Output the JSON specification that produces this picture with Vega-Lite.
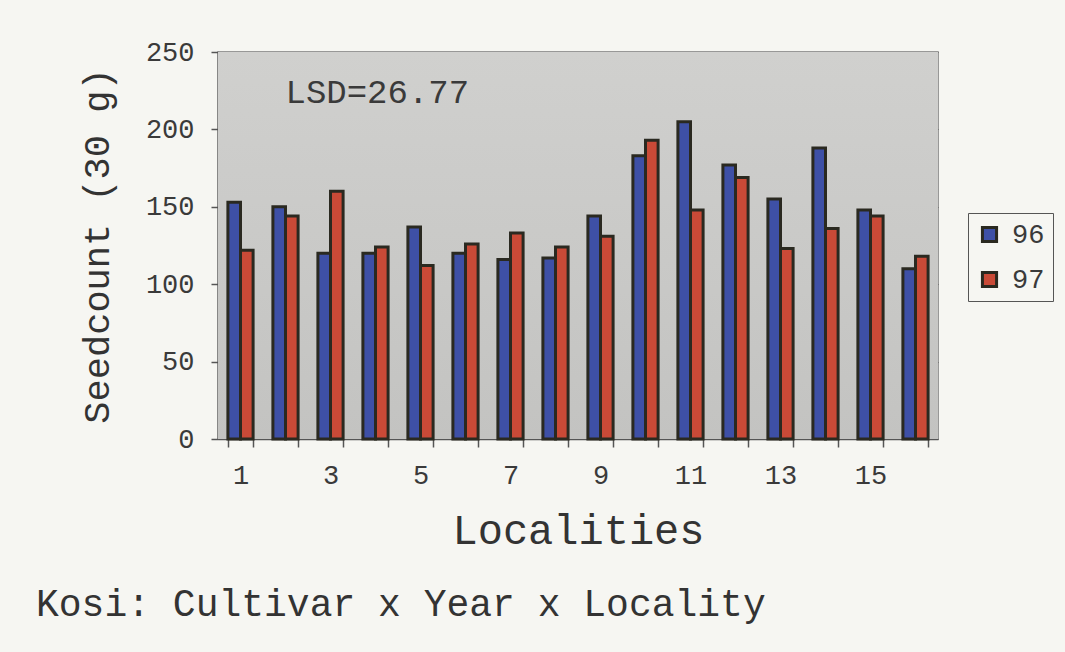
{
  "$schema": "https://vega.github.io/schema/vega-lite/v6.json",
  "autosize": "none",
  "width": 720,
  "height": 387,
  "padding": {"left": 218, "top": 52, "right": 127, "bottom": 213},
  "background": "#f6f6f2",
  "title": {
    "text": "Kosi: Cultivar x Year x Locality",
    "orient": "bottom",
    "anchor": "start",
    "frame": "group",
    "dx": -182,
    "offset": 35,
    "font": "Liberation Mono",
    "fontSize": 38,
    "fontWeight": "normal",
    "color": "#333333"
  },
  "config": {
    "font": "Liberation Mono",
    "view": {"stroke": "#7a7a7a", "strokeWidth": 1.5},
    "axis": {
      "labelFont": "Liberation Mono",
      "titleFont": "Liberation Mono",
      "labelColor": "#3a3a3a",
      "titleColor": "#333333",
      "titleFontWeight": "normal",
      "domainColor": "#555555",
      "tickColor": "#555555",
      "domainWidth": 1.5,
      "tickWidth": 1.5
    }
  },
  "layer": [
    {
      "data": {"values": [{}]},
      "mark": {
        "type": "rect",
        "fill": {
          "gradient": "linear",
          "x1": 0, "y1": 0, "x2": 0, "y2": 1,
          "stops": [
            {"offset": 0, "color": "#d0d0ce"},
            {"offset": 1, "color": "#c3c3c1"}
          ]
        }
      },
      "encoding": {}
    },
    {
      "data": {
        "values": [
          {"locality": 1, "year": "96", "seedcount": 153},
          {"locality": 1, "year": "97", "seedcount": 122},
          {"locality": 2, "year": "96", "seedcount": 150},
          {"locality": 2, "year": "97", "seedcount": 144},
          {"locality": 3, "year": "96", "seedcount": 120},
          {"locality": 3, "year": "97", "seedcount": 160},
          {"locality": 4, "year": "96", "seedcount": 120},
          {"locality": 4, "year": "97", "seedcount": 124},
          {"locality": 5, "year": "96", "seedcount": 137},
          {"locality": 5, "year": "97", "seedcount": 112},
          {"locality": 6, "year": "96", "seedcount": 120},
          {"locality": 6, "year": "97", "seedcount": 126},
          {"locality": 7, "year": "96", "seedcount": 116},
          {"locality": 7, "year": "97", "seedcount": 133},
          {"locality": 8, "year": "96", "seedcount": 117},
          {"locality": 8, "year": "97", "seedcount": 124},
          {"locality": 9, "year": "96", "seedcount": 144},
          {"locality": 9, "year": "97", "seedcount": 131},
          {"locality": 10, "year": "96", "seedcount": 183},
          {"locality": 10, "year": "97", "seedcount": 193},
          {"locality": 11, "year": "96", "seedcount": 205},
          {"locality": 11, "year": "97", "seedcount": 148},
          {"locality": 12, "year": "96", "seedcount": 177},
          {"locality": 12, "year": "97", "seedcount": 169},
          {"locality": 13, "year": "96", "seedcount": 155},
          {"locality": 13, "year": "97", "seedcount": 123},
          {"locality": 14, "year": "96", "seedcount": 188},
          {"locality": 14, "year": "97", "seedcount": 136},
          {"locality": 15, "year": "96", "seedcount": 148},
          {"locality": 15, "year": "97", "seedcount": 144},
          {"locality": 16, "year": "96", "seedcount": 110},
          {"locality": 16, "year": "97", "seedcount": 118}
        ]
      },
      "mark": {"type": "bar", "stroke": "#2a2920", "strokeWidth": 3},
      "encoding": {
        "x": {
          "field": "locality",
          "type": "ordinal",
          "scale": {"paddingInner": 0.44, "paddingOuter": 0.22},
          "axis": {
            "title": "Localities",
            "labelAngle": 0,
            "labelFontSize": 27,
            "labelPadding": 15,
            "labelExpr": "datum.value % 2 == 1 ? datum.label : ''",
            "tickBand": "extent",
            "tickSize": 8,
            "titleFontSize": 42,
            "titlePadding": 22
          }
        },
        "xOffset": {"field": "year", "type": "nominal", "scale": {"paddingInner": 0}},
        "y": {
          "field": "seedcount",
          "type": "quantitative",
          "scale": {"domain": [0, 250], "nice": false},
          "axis": {
            "title": "Seedcount (30 g)",
            "values": [0, 50, 100, 150, 200, 250],
            "labelFontSize": 27,
            "labelPadding": 17,
            "tickSize": 7,
            "grid": true,
            "gridColor": "#5e5e5e",
            "gridWidth": 1.2,
            "titleFontSize": 37,
            "titlePadding": 29
          }
        },
        "color": {
          "field": "year",
          "type": "nominal",
          "scale": {"domain": ["96", "97"], "range": ["#3e50a6", "#c94a37"]},
          "legend": {
            "title": null,
            "orient": "none",
            "legendX": 750,
            "legendY": 161,
            "padding": 8,
            "strokeColor": "#555555",
            "fillColor": null,
            "symbolType": "square",
            "symbolSize": 200,
            "symbolStrokeColor": "#2a2920",
            "symbolStrokeWidth": 3,
            "symbolOpacity": 1,
            "labelFont": "Liberation Mono",
            "labelFontSize": 27,
            "labelColor": "#3a3a3a",
            "labelOffset": 9,
            "rowPadding": 17
          }
        }
      }
    },
    {
      "data": {"values": [{}]},
      "mark": {
        "type": "text",
        "align": "left",
        "baseline": "alphabetic",
        "font": "Liberation Mono",
        "fontSize": 34,
        "color": "#3a3a3a"
      },
      "encoding": {
        "x": {"datum": 2, "type": "ordinal"},
        "y": {"datum": 217, "type": "quantitative"},
        "text": {"value": "LSD=26.77"}
      }
    }
  ]
}
